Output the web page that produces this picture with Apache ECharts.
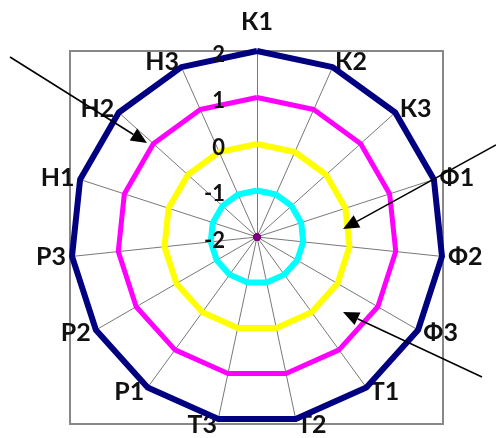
<!DOCTYPE html>
<html><head><meta charset="utf-8">
<script src="https://cdn.jsdelivr.net/npm/echarts@6/dist/echarts.min.js"></script>
<style>html,body{margin:0;padding:0;background:#fff}#c{width:496px;height:438px}</style>
</head><body><div id="c"></div>
<script>
const categories = ['К1','К2','К3','Ф1','Ф2','Ф3','Т1','Т2','Т3','Р1','Р2','Р3','Н1','Н2','Н3'];
const seriesNavy    = [2,2,2,2,2,2,2,2,2,2,2,2,2,2,2];
const seriesMagenta = [1,1,1,1,1,1,1,1,1,1,1,1,1,1,1];
const seriesYellow  = [0,0,0,0,0,0,0,0,0,0,0,0,0,0,0];
const seriesCyan    = [-1,-1,-1,-1,-1,-1,-1,-1,-1,-1,-1,-1,-1,-1,-1];
const seriesPurple  = [-2,-2,-2,-2,-2,-2,-2,-2,-2,-2,-2,-2,-2,-2,-2];
const axisMin = -2, axisMax = 2;
// annotation arrows: [tailX, tailY, tipX, tipY] (pixel annotations)
const arrows = [[10,57,147,143],[496,145,343,229],[482,377,343,312]];

const FONT = 'Lato, "Open Sans", sans-serif';
// ECharts radar runs counter-clockwise; reorder so categories run clockwise
const order = [0].concat(categories.map((_,i)=>i).slice(1).reverse());
const cw = arr => order.map(i=>arr[i]);

const tickFont = {color:'#111', fontFamily:FONT, fontWeight:'bold', fontSize:22};
const indicator = cw(categories).map((n,i)=>{
  const o = {name:n, min:axisMin, max:axisMax};
  if(i===0) o.nameGap = 17;
  return o;
});
const indicatorLabels = cw(categories).map((n,i)=>{
  const o = {name:n, min:axisMin, max:axisMax};
  if(i===0) o.axisLabel = Object.assign({show:true, margin:32, formatter:'{v|{value}}',
        rich:{v:Object.assign({padding:[7,0,0,0]}, tickFont)}}, tickFont);
  return o;
});

function arrowGraphic(a){
  const [x1,y1,x2,y2]=a;
  const dx=x2-x1, dy=y2-y1, L=Math.hypot(dx,dy), ux=dx/L, uy=dy/L;
  const hl=16, hw=7;
  const bx=x2-ux*hl, by=y2-uy*hl;
  return [
    {type:'line', shape:{x1:x1,y1:y1,x2:bx,y2:by}, style:{stroke:'#000',lineWidth:1.5}, z:100},
    {type:'polygon', shape:{points:[[x2,y2],[bx-uy*hw,by+ux*hw],[bx+uy*hw,by-ux*hw]]}, style:{fill:'#000'}, z:100}
  ];
}

const chart = echarts.init(document.getElementById('c'));
const mk = (data,color,w,name,sym)=>({type:'radar', name:name, radarIndex:0,
  symbol:sym?'circle':'none', symbolSize:sym?7:0, data:[{value:cw(data)}],
  lineStyle:{color:color,width:w}, itemStyle:{color:color}, z:3});
const radarBase = {center:[257,237], radius:186, startAngle:90, shape:'polygon', splitNumber:4,
  splitLine:{show:false}, splitArea:{show:false}, axisTick:{show:false}};
chart.setOption({
  animation:false,
  graphic:[
    {type:'rect', shape:{x:70,y:51,width:373,height:373}, style:{fill:null,stroke:'#888',lineWidth:2}, z:-1}
  ].concat(...arrows.map(arrowGraphic)),
  radar:[
    Object.assign({}, radarBase, {
      indicator:indicator, z:0,
      axisName:{color:'#111', fontFamily:FONT, fontWeight:'bold', fontSize:25},
      nameGap:6,
      axisLine:{show:true, lineStyle:{color:'#555', width:0.8}},
      axisLabel:{show:false}
    }),
    Object.assign({}, radarBase, {
      indicator:indicatorLabels, z:10,
      axisName:{show:false},
      axisLine:{show:false},
      axisLabel:{show:false}
    })
  ],
  series:[
    mk(seriesNavy,'#000080',6,'2'),
    mk(seriesMagenta,'#ff00ff',5,'1'),
    mk(seriesYellow,'#ffff00',6,'0'),
    mk(seriesCyan,'#00ffff',6,'-1'),
    mk(seriesPurple,'#7f007f',3,'-2',true)
  ]
});
</script></body></html>
